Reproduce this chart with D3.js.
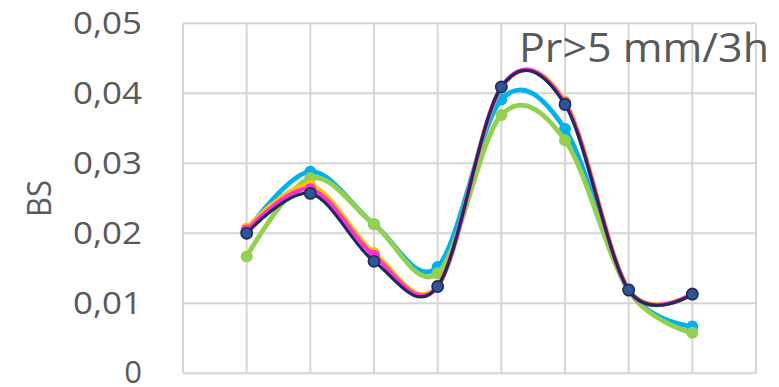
<!DOCTYPE html>
<html>
<head>
<meta charset="utf-8">
<script src="https://cdn.jsdelivr.net/npm/d3@7"></script>
<style>
  html, body { margin: 0; padding: 0; background: #ffffff; }
  svg { display: block; }
  text { font-family: "Open Sans", "Noto Sans", sans-serif; fill: #595959; }
</style>
</head>
<body>
<svg id="chart" width="779" height="387"></svg>
<script>
// Lead times (x positions of the points)
const steps = [1, 2, 3, 4, 5, 6, 7, 8];

// Brier score per configuration
const seriesOrange  = [0.0207, 0.0268, 0.0172, 0.0125, 0.0408, 0.0388, 0.0120, 0.0114];
const seriesMagenta = [0.0204, 0.0263, 0.0168, 0.0124, 0.0409, 0.0386, 0.0119, 0.0114];
const seriesCyan    = [0.0203, 0.0288, 0.0213, 0.0152, 0.0391, 0.0349, 0.0119, 0.0067];
const seriesGreen   = [0.0167, 0.0279, 0.0213, 0.0143, 0.0369, 0.0333, 0.0118, 0.0058];
const seriesNavy    = [0.0200, 0.0257, 0.0160, 0.0124, 0.0409, 0.0384, 0.0119, 0.0113];

// Axis ticks
const yTicks = [0, 0.01, 0.02, 0.03, 0.04, 0.05];
const yTickLabels = ["0", "0,01", "0,02", "0,03", "0,04", "0,05"];
const xGrid = [0, 1, 2, 3, 4, 5, 6, 7, 8, 9];

const yTitle = "BS";
const panelTitle = "Pr>5 mm/3h";

const svg = d3.select("#chart");
const plot = { left: 183, right: 756, top: 23.3, bottom: 373.3 };

const x = d3.scaleLinear().domain([0, 9]).range([plot.left, plot.right]);
const y = d3.scaleLinear().domain([0, 0.05]).range([plot.bottom, plot.top]);

// Grid
const grid = svg.append("g").attr("stroke", "#d6d6d6").attr("stroke-width", 2);
grid.selectAll("line.v").data(xGrid).join("line").attr("class", "v")
  .attr("x1", d => x(d)).attr("x2", d => x(d))
  .attr("y1", plot.top).attr("y2", plot.bottom);
grid.selectAll("line.h").data(yTicks).join("line").attr("class", "h")
  .attr("x1", plot.left).attr("x2", plot.right)
  .attr("y1", d => y(d)).attr("y2", d => y(d));

// Y axis labels
const yAxis = d3.axisLeft(y).tickValues(yTicks)
  .tickFormat((d, i) => yTickLabels[i]).tickSize(0).tickPadding(0);
const yg = svg.append("g").attr("transform", `translate(142,0)`).call(yAxis);
yg.select(".domain").remove();
yg.selectAll("text")
  .attr("font-family", "'Open Sans', sans-serif")
  .attr("font-size", 31).attr("fill", "#595959")
  .attr("dy", "0.34em")
  .each(function (d, i) {
    if (yTickLabels[i].length > 1) {
      d3.select(this).attr("textLength", 69).attr("lengthAdjust", "spacingAndGlyphs");
    } else {
      d3.select(this).attr("dy", "0.3em");
    }
  });

// Y axis title
svg.append("text")
  .attr("transform", "translate(50.5,198.5) rotate(-90)")
  .attr("text-anchor", "middle")
  .attr("font-size", 32)
  .attr("textLength", 37).attr("lengthAdjust", "spacingAndGlyphs")
  .text(yTitle);

// Panel title
svg.append("text")
  .attr("x", 519).attr("y", 61.5)
  .attr("font-size", 40.5)
  .attr("textLength", 250).attr("lengthAdjust", "spacingAndGlyphs")
  .text(panelTitle);

// Series
const series = [
  { values: seriesCyan,    line: "#00b0f0", fill: "#00b0f0", stroke: "#00b0f0", w: 4.8, r: 5.2 },
  { values: seriesGreen,   line: "#92d050", fill: "#92d050", stroke: "#92d050", w: 4.8, r: 5.2 },
  { values: seriesOrange,  line: "#ffc000", fill: "#ffc000", stroke: "#ffc000", w: 4.6, r: 5.2 },
  { values: seriesMagenta, line: "#ff33cc", fill: "#ff33cc", stroke: "#ff33cc", w: 4.2, r: 5.2 },
  { values: seriesNavy,    line: "#1f2a5e", fill: "#2f5597", stroke: "#1f2a5e", w: 3.2, r: 5.6 }
];

const lineGen = d3.line()
  .x((d, i) => x(steps[i]))
  .y(d => y(d))
  .curve(d3.curveCardinal.tension(0));

series.forEach(s => {
  const g = svg.append("g");
  g.append("path")
    .attr("d", lineGen(s.values))
    .attr("fill", "none")
    .attr("stroke", s.line)
    .attr("stroke-width", s.w)
    .attr("stroke-linejoin", "round")
    .attr("stroke-linecap", "round");
  g.selectAll("circle").data(s.values).join("circle")
    .attr("cx", (d, i) => x(steps[i]))
    .attr("cy", d => y(d))
    .attr("r", s.r)
    .attr("fill", s.fill)
    .attr("stroke", s.stroke)
    .attr("stroke-width", 1.6);
});
</script>
</body>
</html>
